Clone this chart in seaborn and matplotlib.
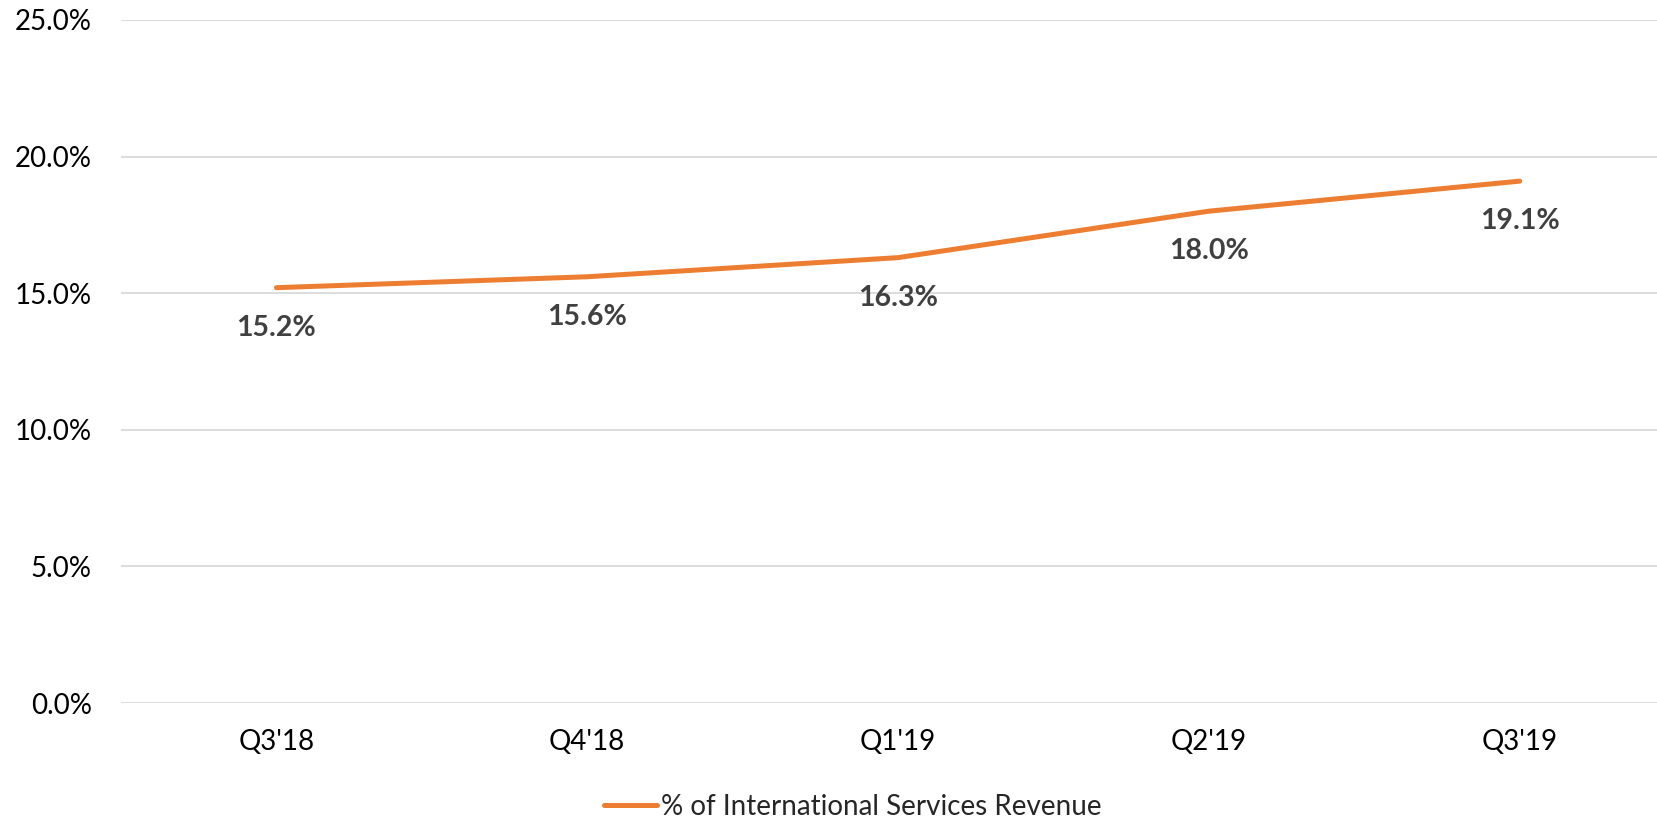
import matplotlib
matplotlib.use('Agg')
import matplotlib.pyplot as plt
import seaborn as sns
import pandas as pd

quarters = ["Q3'18", "Q4'18", "Q1'19", "Q2'19", "Q3'19"]
intl_share = [15.2, 15.6, 16.3, 18.0, 19.1]
series_name = '% of International Services Revenue'
y_ticks = [0, 5, 10, 15, 20, 25]

sns.set_style('white')
plt.rcParams['font.family'] = ['Lato', 'DejaVu Sans']

df = pd.DataFrame({'Quarter': quarters, 'Share': intl_share})

fig = plt.figure(figsize=(16.58, 8.23), dpi=100)
# plot area runs past the right edge, as in the original export
ax = fig.add_axes([0.073, 0.1458, 0.9373, 0.830])

sns.lineplot(data=df, x='Quarter', y='Share', sort=False, color='#ED7D31',
             linewidth=3.6, solid_capstyle='round', label=series_name, ax=ax)

# data labels below each point
for i, v in enumerate(intl_share):
    ax.annotate(f'{v:.1f}%', (i, v), xytext=(0, -29), textcoords='offset points',
                ha='center', va='center', fontsize=20.5, fontweight='bold', color='#404040')

ax.set_xlim(-0.5, len(quarters) - 0.5)
ax.set_ylim(0, 25)
ax.set_yticks(y_ticks)
ax.set_yticklabels([f'{t:.1f}%' for t in y_ticks])
ax.grid(axis='y', color='#D9D9D9', linewidth=1.3)
ax.set_axisbelow(True)
for s in ax.spines.values():
    s.set_visible(False)
ax.tick_params(axis='both', length=0, labelsize=20, labelcolor='#000000')
ax.tick_params(axis='y', pad=21)
ax.tick_params(axis='x', pad=19)
ax.set_xlabel('')
ax.set_ylabel('')

ax.legend(loc='center', bbox_to_anchor=(0.471, -0.152), frameon=False,
          fontsize=20, handlelength=1.9, handletextpad=0.15)

fig.savefig('out.png', dpi=100)
